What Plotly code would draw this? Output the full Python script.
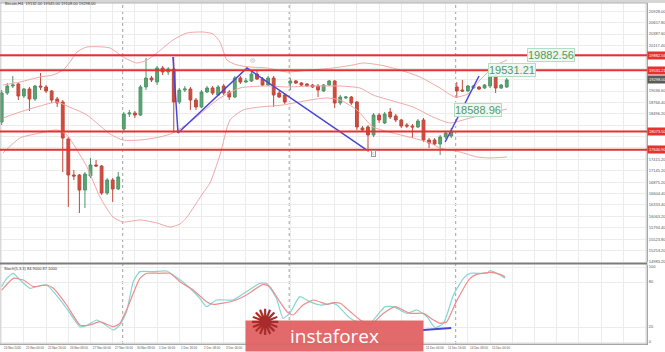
import plotly.graph_objects as go

# ---------------- data ----------------
candle_idx = list(range(92))
opens = [18301, 18989, 19155, 19203, 18918, 19084, 18847, 19155, 19132, 19037,
         18847, 18776, 17898, 17044, 17044, 16688, 17020, 17282, 17258, 16617,
         16926, 16712, 18135, 18491, 18515, 18467, 19132, 19345, 19250, 19582,
         19488, 19559, 18776, 19060, 19084, 18823, 18657, 19013, 19108, 18942,
         19155, 19013, 18894, 19345, 19250, 19274, 19440, 19321, 19179, 19345,
         18989, 18942, 19226, 19274, 19226, 19203, 19179, 19155, 19037, 19179,
         19274, 18752, 18871, 18894, 18776, 18159, 18183, 17993, 18467, 18278,
         18538, 18444, 18349, 18230, 18206, 18183, 18349, 17874, 17874, 17780,
         17946, 17969, 19132, 19060, 19037, 19108, 19132, 19108, 19155, 19416,
         19108, 19132]
highs = [19060, 19226, 19393, 19226, 19108, 19132, 19179, 19464, 19179, 19060,
         18894, 18823, 17946, 17163, 17068, 17115, 17448, 17400, 17282, 16973,
         16973, 17115, 18538, 18586, 18562, 19179, 19819, 19393, 19630, 19630,
         19606, 19843, 19108, 19155, 19132, 18871, 19060, 19155, 19155, 19179,
         19203, 19060, 19393, 19393, 19345, 19488, 19511, 19369, 19393, 19393,
         19037, 18989, 19345, 19298, 19250, 19226, 19203, 19203, 19203, 19298,
         19298, 18942, 18918, 18918, 18800, 18206, 18230, 18515, 18515, 18538,
         18633, 18491, 18372, 18278, 18254, 18372, 18396, 17922, 17922, 17993,
         18088, 18159, 19250, 19298, 19179, 19179, 19155, 19203, 19464, 19440,
         19203, 19345]
lows = [18230, 18942, 19108, 18823, 18871, 18562, 18800, 19060, 18989, 18752,
        18657, 17115, 16285, 16926, 16143, 16262, 16973, 17234, 16570, 16570,
        16404, 16688, 18088, 18420, 18396, 18444, 19060, 19250, 19179, 19416,
        19416, 18040, 18728, 19013, 18586, 18586, 18633, 18989, 18942, 18918,
        18942, 18823, 18871, 19203, 19226, 19250, 19298, 19155, 19155, 18657,
        18871, 18728, 19060, 19203, 19155, 19132, 19108, 18894, 19013, 19155,
        18633, 18705, 18847, 18705, 18112, 18064, 17590, 17946, 18278, 18254,
        18372, 18301, 18159, 18159, 17922, 18159, 17827, 17685, 17756, 17519,
        17898, 17922, 18871, 19013, 19013, 19084, 19060, 19084, 19108, 18989,
        19084, 19108]
closes = [18989, 19155, 19179, 18918, 19084, 18847, 19155, 19132, 19037, 18823,
          18752, 17922, 17044, 17020, 16688, 17068, 17282, 17258, 16617, 16926,
          16712, 16997, 18491, 18515, 18467, 19132, 19345, 19298, 19582, 19488,
          19559, 18776, 19060, 19084, 18823, 18657, 19013, 19108, 18989, 19132,
          18989, 18894, 19345, 19250, 19274, 19440, 19321, 19179, 19345, 18942,
          18894, 18776, 19274, 19226, 19179, 19155, 19132, 19060, 19179, 19274,
          18752, 18894, 18894, 18752, 18183, 18112, 17993, 18467, 18349, 18491,
          18420, 18349, 18206, 18206, 18183, 18325, 17874, 17803, 17780, 17946,
          18040, 18088, 19037, 19037, 19155, 19155, 19084, 19179, 19416, 19108,
          19179, 19298]

# Bollinger bands (x in candle units)
upper_x = [0.23, 3.30, 6.90, 9.24, 11.05, 12.31, 13.57, 15.37, 19.51, 21.86, 24.38, 26.18,
           27.98, 30.86, 33.39, 36.27, 38.07, 39.33, 40.59, 42.40, 44.74, 47.80, 51.41,
           55.55, 59.69, 63.30, 65.10, 68.16, 71.77, 75.37, 78.97, 81.68, 84.02, 86.18,
           88.88, 91.05]
upper_y = [19179, 19250, 19369, 19416, 19535, 19725, 19962, 20080, 20057, 19843, 19701, 19772,
           19938, 20246, 20413, 20436, 20390, 20199, 19772, 19653, 19606, 19582, 19488,
           19535, 19582, 19653, 19701, 19653, 19535, 19369, 19108, 18894, 18966, 19298,
           19630, 19772]
middle_x = [0.23, 3.30, 6.90, 9.96, 11.77, 15.37, 19.51, 21.86, 24.92, 28.52, 30.86, 33.93,
            35.73, 39.33, 42.94, 47.80, 51.41, 55.55, 58.61, 60.95, 64.56, 66.90, 70.50,
            74.11, 77.71, 80.77, 84.38, 87.98, 91.05]
middle_y = [18396, 18539, 18681, 18776, 18681, 18467, 18017, 17874, 17874, 17946, 18040, 18301,
            18491, 18871, 19108, 19155, 19132, 19155, 19155, 19155, 19108, 18942, 18800,
            18657, 18420, 18278, 18396, 18515, 18610]
lower_x = [0.23, 3.30, 6.90, 9.96, 11.77, 14.11, 15.37, 17.71, 20.05, 21.86, 24.92, 27.98,
           30.32, 32.13, 33.39, 36.27, 37.53, 39.33, 41.14, 43.48, 46.54, 50.68, 55.55,
           58.61, 60.95, 64.02, 66.90, 70.50, 74.11, 77.17, 78.97, 82.57, 85.64, 87.98, 91.05]
lower_y = [17566, 17922, 18040, 18112, 17993, 17519, 17234, 16522, 16048, 15929, 15977, 15906,
           15811, 15882, 16048, 16617, 16854, 17519, 18349, 18586, 18657, 18705, 18823,
           18871, 18823, 18586, 18183, 18040, 17922, 17803, 17685, 17590, 17472, 17448, 17472]

# Horizontal levels
red_levels = [19882.56, 19531.21, 18073.50, 17640.90]
label_texts = ["19882.56", "19531.21", "18588.96"]
label_values = [19882.56, 19531.21, 18588.96]
label_x = [94.65, 87.6, 81.5]

# Wave lines
wave_x = [30.86, 31.77, 44.2, 65.8]
wave_y = [19843, 18040, 19582, 17637]
wave2_x = [79.9, 86.0]
wave2_y = [17827, 19393]

# Stochastic (5,3,3)
stoch_k_x = [0, 0.9, 2.1, 3.3, 5.1, 6.3, 8.1, 9.3, 11.7, 14.1, 15.3, 17.1, 18.3, 20.1, 21.3,
             22.5, 23.7, 24.9, 27.3, 29.7, 30.9, 33.3, 35.7, 36.9, 38.7, 41.7, 44.1, 46.5,
             47.7, 49.5, 50.7, 51.9, 53.7, 55.5, 57.4, 59.7, 60.4, 62.8, 64.6, 66.4, 68.2,
             69.1, 70.6, 73.0, 74.8, 76.6, 78.1, 79.6, 81.4, 83.2, 84.4, 87.4, 88.0, 89.2, 90.7]
stoch_k = [73.8, 84.9, 91.6, 82.7, 71.6, 73.8, 76.0, 67.1, 44.9, 20.4, 21.8, 29.3, 24.9, 16.0,
           22.7, 40.4, 80.4, 93.8, 93.8, 94.7, 89.3, 76.0, 58.2, 47.1, 56.0, 56.0, 67.1, 78.2,
           78.2, 58.2, 31.6, 38.2, 60.4, 53.8, 49.3, 51.6, 49.3, 31.6, 24.9, 24.9, 40.4, 47.1,
           47.1, 38.2, 42.7, 33.8, 19.1, 24.9, 62.7, 84.9, 91.6, 91.6, 95.1, 91.6, 84.9]
stoch_d_x = [0, 2.1, 3.9, 5.7, 8.1, 9.3, 11.7, 14.1, 15.9, 17.7, 20.1, 21.3, 22.5, 24.9, 26.1,
             28.5, 30.3, 32.1, 34.5, 36.9, 38.1, 41.7, 44.1, 47.1, 48.3, 50.1, 51.4, 52.5,
             54.3, 56.2, 58.6, 59.7, 61.0, 62.8, 64.6, 66.4, 68.8, 70.9, 73.6, 76.0, 77.8,
             79.0, 80.2, 81.9, 84.4, 85.6, 88.0, 89.8, 90.7]
stoch_d = [69.3, 84.9, 82.7, 73.8, 76.0, 71.6, 49.3, 22.7, 22.7, 27.1, 20.4, 24.9, 42.7, 84.9,
           91.6, 91.6, 91.6, 80.4, 69.3, 53.8, 50.2, 54.7, 62.7, 76.9, 73.8, 53.8, 40.4, 36.0,
           49.3, 56.0, 50.2, 52.4, 51.6, 40.4, 29.3, 22.7, 38.2, 47.1, 38.2, 38.2, 29.3, 24.9,
           27.1, 53.8, 84.9, 90.2, 92.9, 90.2, 87.1]
stoch_line_x = [75.9, 81.0]
stoch_line_y = [16.0, 18.7]

# Axis ticks / labels
price_ticks = [14983.20, 15253.20, 15523.80, 15794.40, 16063.20, 16333.40, 16604.40, 16875.20,
               17145.20, 17415.20, 17685.40, 17955.60, 18226.00, 18496.20, 18766.40, 19036.60,
               19306.80, 19577.00, 19847.20, 20117.40, 20387.60, 20657.80, 20928.00]
stoch_ticks = [0, 20, 80, 100]
xlabel_idx = list(range(0, 89, 4))
xlabel_text = ["24 Nov 2020", "25 Nov 00:00", "25 Nov 16:00", "26 Nov 08:00", "27 Nov 00:00",
               "27 Nov 16:00", "30 Nov 08:00", "1 Dec 00:00", "1 Dec 16:00", "2 Dec 08:00",
               "3 Dec 00:00", "3 Dec 16:00", "4 Dec 08:00", "7 Dec 00:00", "7 Dec 16:00",
               "8 Dec 08:00", "9 Dec 00:00", "9 Dec 16:00", "10 Dec 08:00", "11 Dec 00:00",
               "11 Dec 16:00", "14 Dec 08:00", "15 Dec 00:00"]
week_starts = [22, 52, 82]
grid_idx = list(range(0, 117, 4))

# ---------------- layout helpers ----------------
W, H = 665, 352
ML, MR, MT, MB = 0, 18, 3, 8
PW = W - ML - MR
PH = H - MT - MB


def pxx(px):
    return px / PW


def pxy(py):
    return (H - MB - py) / PH


XR = [-0.306, 116.27]
YR = [14980.6, 21124.0]
Y2R = [-2.67, 102.67]
WM_LEFT, WM_RIGHT = 245, 422   # watermark extent in pixels
MAIN_PX = 259.0                # main panel height in px
UNITS_PER_PX = (YR[1] - YR[0]) / MAIN_PX


def idx_to_px(i):
    return (i - XR[0]) / (XR[1] - XR[0]) * PW


# axis boxes hide the tick labels that sit under them
box_values = red_levels + [closes[-1]]
tick_text = []
for v in price_ticks:
    hidden = any(abs(v - b) / UNITS_PER_PX < 6.5 for b in box_values)
    tick_text.append("" if hidden else "%.2f" % v)

fig = go.Figure()

band_col = "#f2a7a7"
for bx, by in [(upper_x, upper_y), (middle_x, middle_y), (lower_x, lower_y)]:
    fig.add_trace(go.Scatter(x=bx, y=by, mode="lines", line=dict(color=band_col, width=1, shape="spline", smoothing=0.6),
                             hoverinfo="skip", xaxis="x", yaxis="y"))

fig.add_trace(go.Candlestick(
    x=candle_idx, open=opens, high=highs, low=lows, close=closes,
    increasing=dict(line=dict(color="#4d9566", width=1), fillcolor="#5ea576"),
    decreasing=dict(line=dict(color="#c0483b", width=1), fillcolor="#d24c3d"),
    whiskerwidth=0, xaxis="x", yaxis="y", hoverinfo="skip"))

fig.add_trace(go.Scatter(x=wave_x, y=wave_y, mode="lines", line=dict(color="#4646d8", width=1.5),
                         xaxis="x", yaxis="y", hoverinfo="skip"))
fig.add_trace(go.Scatter(x=wave2_x, y=wave2_y, mode="lines", line=dict(color="#4646d8", width=1.5),
                         xaxis="x", yaxis="y", hoverinfo="skip"))

fig.add_trace(go.Scatter(x=stoch_k_x, y=stoch_k, mode="lines",
                         line=dict(color="#86d4d4", width=1.2, shape="spline", smoothing=0.5),
                         xaxis="x2", yaxis="y2", hoverinfo="skip"))
fig.add_trace(go.Scatter(x=stoch_d_x, y=stoch_d, mode="lines",
                         line=dict(color="#ee8c8c", width=1.2, shape="spline", smoothing=0.5),
                         xaxis="x2", yaxis="y2", hoverinfo="skip"))
fig.add_trace(go.Scatter(x=stoch_line_x, y=stoch_line_y, mode="lines", line=dict(color="#4646d8", width=2),
                         xaxis="x2", yaxis="y2", hoverinfo="skip"))

shapes = []
# top strip
shapes.append(dict(type="rect", xref="paper", yref="paper", x0=0, x1=W / PW, y0=1.0, y1=pxy(0),
                   fillcolor="#d6d6d6", line=dict(width=0), layer="above"))
# frame
shapes.append(dict(type="rect", xref="paper", yref="paper", x0=0, x1=1, y0=0, y1=1,
                   line=dict(color="#b4b4b4", width=1), layer="above"))
# red levels
for v in red_levels:
    shapes.append(dict(type="line", xref="paper", yref="y", x0=0, x1=1, y0=v, y1=v,
                       line=dict(color="#e5312f", width=2), layer="above"))
# week separators
for w in week_starts:
    shapes.append(dict(type="line", xref="x", yref="paper", x0=w - 0.2, x1=w - 0.2, y0=0, y1=1,
                       line=dict(color="#a0a0a0", width=1, dash="dot"), layer="below"))
# panel separator
shapes.append(dict(type="line", xref="paper", yref="paper", x0=0, x1=1, y0=pxy(263.5), y1=pxy(263.5),
                   line=dict(color="#7c7c7c", width=2), layer="above"))

ann = []
small = dict(family="Liberation Sans", size=4, color="#555555")
tiny = dict(family="Liberation Sans", size=3, color="#555555")
# header
ann.append(dict(xref="paper", yref="paper", x=pxx(3), y=pxy(4), xanchor="left", yanchor="middle",
                text="Bitcoin,H4  %.2f %.2f %.2f %.2f" % (opens[-1], highs[-1], lows[-1], closes[-1]),
                showarrow=False, font=dict(family="Liberation Sans", size=4, color="#333333")))
# stoch label
ann.append(dict(xref="paper", yref="paper", x=pxx(2), y=pxy(268), xanchor="left", yanchor="middle",
                text="Stoch(5,3,3) %.4f %.4f" % (stoch_k[-1], stoch_d[-1]),
                showarrow=False, font=dict(family="Liberation Sans", size=4, color="#333333")))
# x labels (those lying under the watermark are hidden by it in the reference)
for i, t in zip(xlabel_idx, xlabel_text):
    p = idx_to_px(i)
    if WM_LEFT - 20 < p < WM_RIGHT:
        continue
    ann.append(dict(xref="x2", yref="paper", x=i, y=pxy(347.5), xanchor="left", yanchor="middle",
                    text=t, showarrow=False, font=tiny))
# axis boxes for red levels
for v in red_levels:
    ann.append(dict(xref="paper", yref="y", x=1.0, y=v, xanchor="left", yanchor="middle",
                    text="%.2f" % v, showarrow=False, bgcolor="#e5312f", borderpad=1,
                    font=dict(family="Liberation Sans", size=4, color="white")))
# current price box
ann.append(dict(xref="paper", yref="y", x=1.0, y=closes[-1], xanchor="left", yanchor="middle",
                text="%.2f" % closes[-1], showarrow=False, bgcolor="#5a5a5a", borderpad=1,
                font=dict(family="Liberation Sans", size=4, color="white")))
# price labels
for t, v, lx in zip(label_texts, label_values, label_x):
    ann.append(dict(xref="x", yref="y", x=lx, y=v, xanchor="left", yanchor="middle", text=t,
                    showarrow=False, bgcolor="rgba(238,248,241,0.95)", bordercolor="#b6dcc2",
                    borderwidth=1, borderpad=0,
                    font=dict(family="Liberation Sans", size=11, color="#4f9b67")))
# small wave markers
ann.append(dict(xref="x", yref="y", x=45.1, y=19772, text="◎", showarrow=False,
                font=dict(size=6, color="#999999")))
ann.append(dict(xref="x", yref="y", x=66.9, y=17566, text="C", showarrow=False, bordercolor="#999999",
                borderwidth=1, borderpad=0, font=dict(size=4, color="#777777")))
# watermark
ann.append(dict(xref="paper", yref="paper", x=pxx(WM_LEFT), y=pxy(352), xanchor="left", yanchor="bottom",
                width=WM_RIGHT - WM_LEFT, height=30, text="instaforex", showarrow=False,
                bgcolor="rgba(226,98,98,0.95)", borderpad=0,
                font=dict(family="Open Sans", size=19, color="white")))
ann.append(dict(xref="paper", yref="paper", x=pxx(265), y=pxy(322), xanchor="center", yanchor="middle",
                text="✺", showarrow=False, font=dict(family="DejaVu Sans", size=36, color="#a82a2a")))

axis_common = dict(showgrid=True, gridcolor="#ececec", gridwidth=1, zeroline=False)

fig.update_layout(
    width=W, height=H, margin=dict(l=ML, r=MR, t=MT, b=MB),
    paper_bgcolor="white", plot_bgcolor="white", showlegend=False,
    xaxis=dict(domain=[0, 1], range=XR, anchor="y", tickvals=grid_idx, showticklabels=False,
               ticks="", rangeslider=dict(visible=False), fixedrange=True, **axis_common),
    yaxis=dict(domain=[pxy(262), 1], range=YR, anchor="x", side="right", tickvals=price_ticks,
               ticktext=tick_text, tickfont=small, ticks="",
               showline=True, linecolor="#9a9a9a", linewidth=1, automargin=False, **axis_common),
    xaxis2=dict(domain=[0, 1], range=XR, anchor="y2", tickvals=grid_idx, showticklabels=False,
                ticks="", showline=True, linecolor="#9a9a9a", **axis_common),
    yaxis2=dict(domain=[0, pxy(265)], range=Y2R, anchor="x2", side="right", tickvals=stoch_ticks,
                ticktext=[str(v) for v in stoch_ticks], tickfont=small, ticks="",
                showline=True, linecolor="#9a9a9a", linewidth=1, automargin=False, **axis_common),
    shapes=shapes, annotations=ann, boxgap=0.28,
)

fig.write_html("out.html")
